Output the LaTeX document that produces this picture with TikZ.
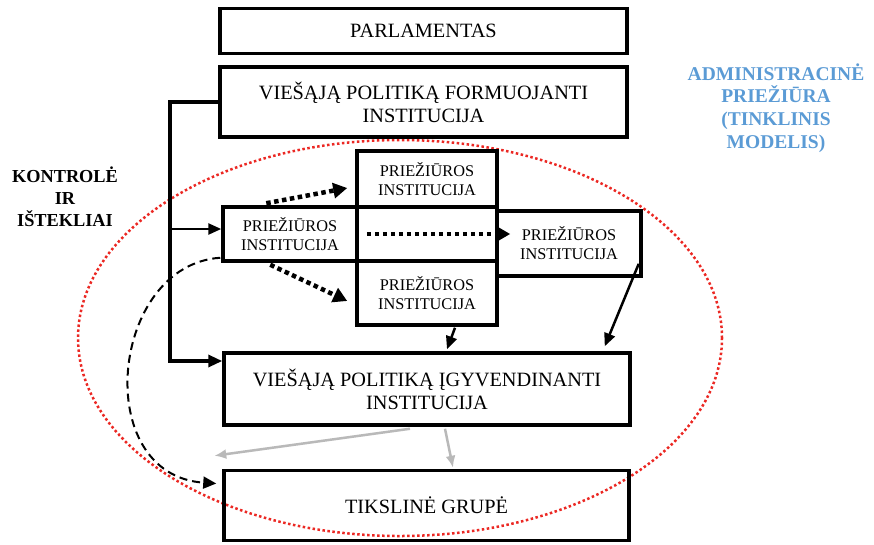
\documentclass[tikz,border=0pt]{standalone}
\usepackage{fontspec}
\setmainfont{Liberation Serif}
\usetikzlibrary{arrows.meta,calc}
\definecolor{adminblue}{RGB}{91,155,213}
\definecolor{ellred}{RGB}{235,40,35}
\definecolor{arrgray}{RGB}{185,185,185}
\begin{document}
\begin{tikzpicture}[x=1pt,y=-1pt,
  bigbox/.style={draw,line width=3.5pt,inner sep=0pt,align=center,font=\fontsize{20.3}{23}\selectfont},
  supbox/.style={draw,line width=3.5pt,inner sep=0pt,align=center,font=\fontsize{16.3}{19}\selectfont},
  solidarr/.style={line width=2.5pt,-{Triangle[length=13pt,width=11pt]}},
  bararr/.style={line width=3.2pt,-{Triangle[length=14pt,width=12pt]}},
  dotarr/.style={line width=4.5pt,dash pattern=on 4.5pt off 3.5pt,-{Triangle[length=14pt,width=15pt]}},
  grayarr/.style={arrgray,line width=2.5pt,-{Latex[length=12pt,width=10pt]}},
  dasharr/.style={line width=2pt,dash pattern=on 8pt off 5pt,-{Triangle[length=13pt,width=12pt]}},
  ellipsestyle/.style={ellred,line width=2.5pt,dash pattern=on 2.5pt off 2.5pt}
]
\useasboundingbox (0,0) rectangle (874,544);

% red dotted ellipse
\draw[ellipsestyle] (400,338) ellipse [x radius=322pt, y radius=198pt];

% boxes
\node[bigbox,minimum width=407pt,minimum height=45pt] (parl) at (423.5,31) {PARLAMENTAS};
\node[bigbox,minimum width=407pt,minimum height=70pt] (form) at (423.5,102) {VIEŠĄJĄ POLITIKĄ FORMUOJANTI\\INSTITUCIJA};
\node[bigbox,minimum width=406pt,minimum height=72pt] (impl) at (427,389) {VIEŠĄJĄ POLITIKĄ ĮGYVENDINANTI\\INSTITUCIJA};
\node[bigbox,minimum width=405pt,minimum height=70pt] (tgt) at (426.5,505.5) {TIKSLINĖ GRUPĖ};

\node[supbox,minimum width=134pt,minimum height=54pt] (supL) at (290,234) {PRIEŽIŪROS\\INSTITUCIJA};
\node[supbox,minimum width=140pt,minimum height=56pt] (supT) at (427,179) {PRIEŽIŪROS\\INSTITUCIJA};
\node[supbox,minimum width=140pt,minimum height=64pt] (supB) at (427,293) {PRIEŽIŪROS\\INSTITUCIJA};
\node[supbox,minimum width=144pt,minimum height=65pt] (supR) at (569,243.5) {PRIEŽIŪROS\\INSTITUCIJA};

% side labels
\node[align=center,font=\bfseries\fontsize{18.3}{22}\selectfont] (ctrl) at (65,197) {KONTROLĖ\\IR\\IŠTEKLIAI};
\node[align=center,text=adminblue,font=\bfseries\fontsize{19.5}{22.7}\selectfont] (admin) at (776,108) {ADMINISTRACINĖ\\PRIEŽIŪRA\\(TINKLINIS\\MODELIS)};

% control bracket
\coordinate (cTop) at (170,102);
\coordinate (cMid) at (170,229);
\coordinate (cBot) at (170,361);
\draw[bararr] (form.west) -- (cTop) -- (cBot) -- (cBot -| impl.west);
\draw[solidarr] (cMid) -- (cMid -| supL.west);

% dotted arrows
\draw[dotarr] ($(supL.north west)+(45,-2)$) -- ($(supT.west)+(-8,9)$);
\draw[dotarr] ($(supL.south west)+(49,2)$) -- ($(supB.west)+(-8,8)$);
\draw[dotarr] ($(supL.east)+(8,0)$) -- ($(supR.west|-supL.east)+(15,0)$);

% solid arrows
\draw[solidarr] ($(supB.south)+(28,1)$) -- ($(impl.north)+(20,-2)$);
\draw[solidarr] ($(supR.south east)+(-4,-14)$) -- ($(impl.north east)+(-27,-5)$);

% gray arrows
\draw[grayarr] ($(impl.south)+(-17,2)$) -- ($(tgt.north west)+(-8,-13)$);
\draw[grayarr] ($(impl.south)+(18,2)$) -- ($(tgt.north)+(26.5,-1)$);

% dashed curve
\draw[dasharr] ($(supL.south west)+(-1,-5)$) .. controls (110,265) and (90,475) .. ($(tgt.west)+(-6,-22)$);
\end{tikzpicture}
\end{document}
